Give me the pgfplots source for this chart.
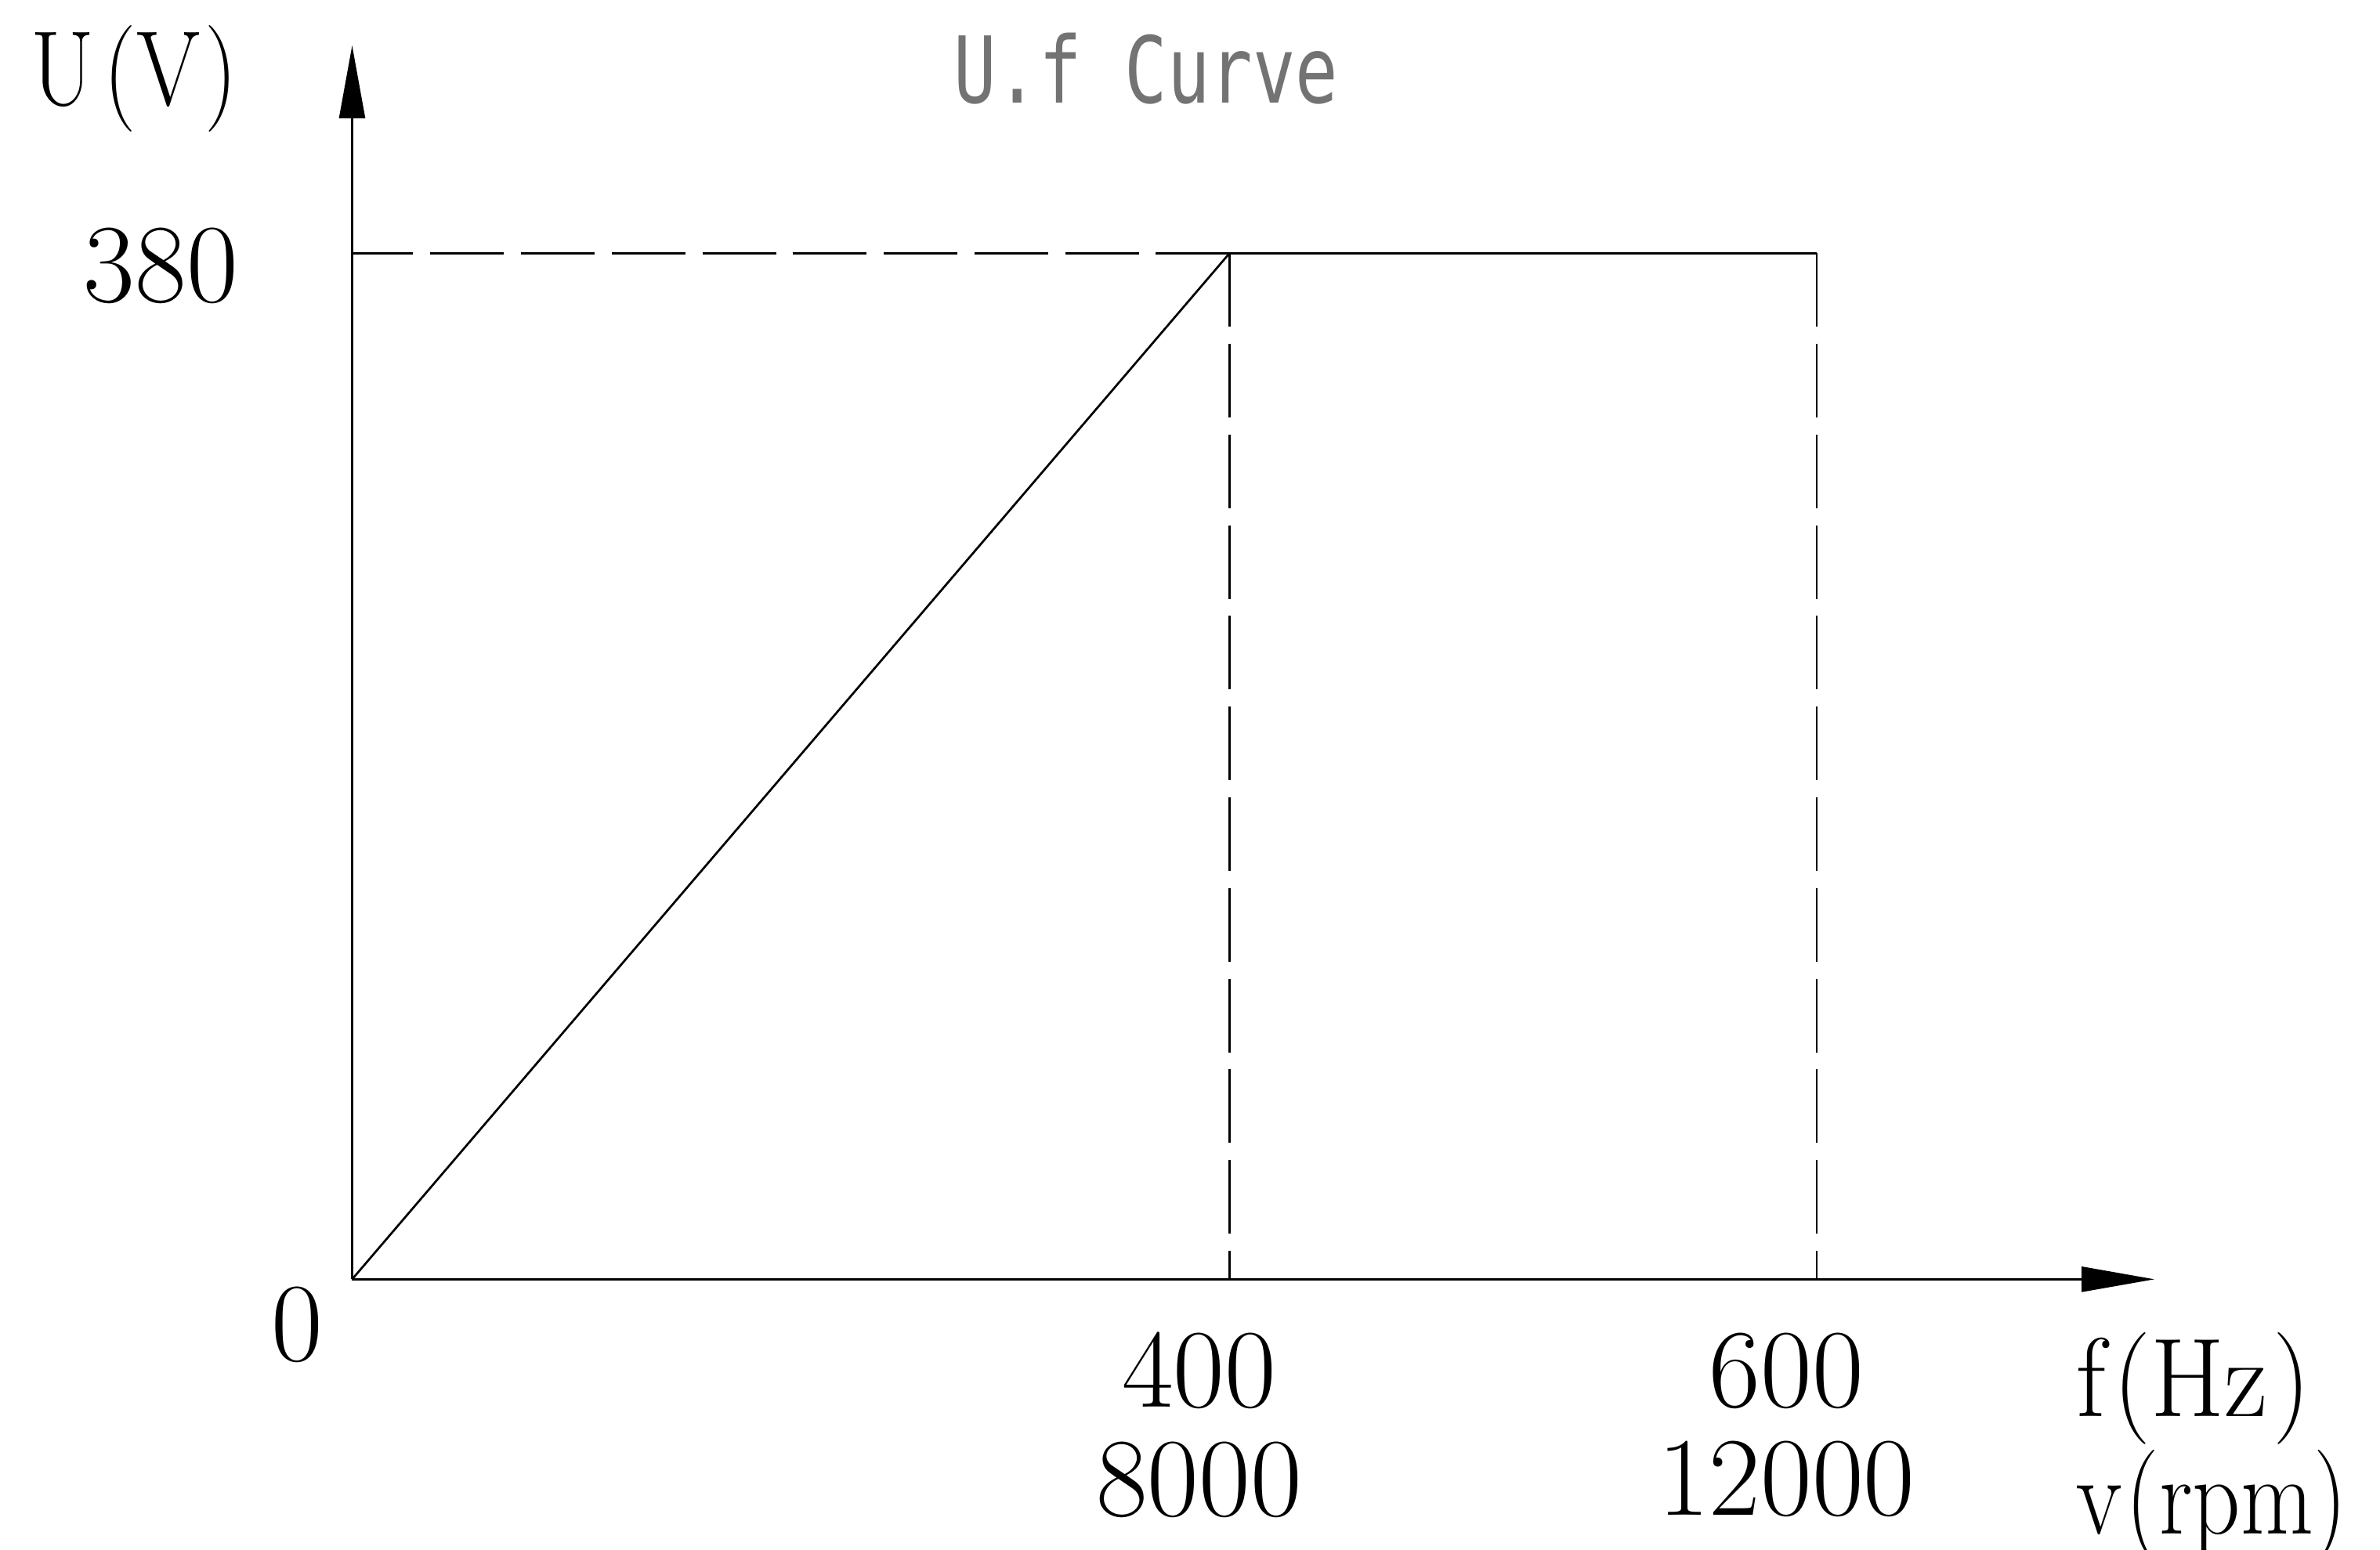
\documentclass[border=0pt]{standalone}
\usepackage{fontspec}
\usepackage{pgfplots}
\pgfplotsset{compat=1.18}
\usetikzlibrary{arrows.meta}
\newfontfamily\titlefont{DejaVu Sans Mono}
\newcommand{\cad}[1]{\scalebox{1.0}[1]{#1}}
\begin{document}
\begin{tikzpicture}
\path[use as bounding box] (-2.32,-1.78) rectangle (13.36,8.43);
\begin{axis}[
  at={(0,0)}, anchor=origin,
  x=0.01445cm, y=0.01779cm,
  xmin=0, xmax=715, ymin=0, ymax=457,
  x coord trafo/.code={\pgfmathparse{min(#1,400)+max(#1-400,0)*1.339}},
  x coord inv trafo/.code={\pgfmathparse{min(#1,400)+max(#1-400,0)/1.339}},
  axis lines=left,
  clip=false,
  axis line style={line width=0.4pt},
  x axis line style={-{Triangle[length=0.48cm,width=0.165cm]}},
  y axis line style={-{Triangle[length=0.48cm,width=0.17cm]}},
  major tick length=0pt,
  tick style={draw=none},
  xtick={400,600},
  xticklabels={{\cad{400}\\\cad{8000}},{\cad{600}\\\cad{12000}}},
  xticklabel style={align=center, anchor=center, xshift=-0.2cm, yshift=-0.96cm,
    font=\fontsize{21}{20.4}\selectfont},
  ytick={380},
  yticklabels={\cad{380}},
  yticklabel style={anchor=center, xshift=-1.26cm, yshift=-0.08cm,
    font=\fontsize{21}{25}\selectfont},
  xlabel={\scalebox{0.95}[1]{f\kern1.5pt(Hz\kern1pt)}\\\scalebox{0.84}[1]{v\kern1pt(rpm)}},
  xlabel style={at={(axis description cs:0.946,-0.136)}, anchor=west, align=left,
    font=\fontsize{21}{18.5}\selectfont},
  ylabel={\scalebox{0.86}[1]{U\kern2pt(V\kern1pt)}},
  ylabel style={at={(axis description cs:-0.121,0.973)}, anchor=center, rotate=-90,
    font=\fontsize{20}{24}\selectfont},
]
\addplot[black, line width=0.4pt] coordinates {(0,0) (400,380) (600,380)};
\addplot[black, line width=0.4pt, dash pattern=on 13.8pt off 3.2pt] coordinates {(400,380) (0,380)};
\addplot[black, line width=0.4pt, dash pattern=on 13.8pt off 3.2pt] coordinates {(400,380) (400,0)};
\addplot[black, line width=0.4pt, dash pattern=on 13.8pt off 3.2pt] coordinates {(600,380) (600,0)};
\end{axis}
\node[font=\fontsize{21}{25}\selectfont] at (-0.36,-0.30) {\cad{0}};
\node[text=black!55, font=\titlefont\fontsize{13.3}{16}\selectfont] at (5.23,7.98) {\scalebox{1}[1.3]{U.f Curve}};
\end{tikzpicture}
\end{document}
